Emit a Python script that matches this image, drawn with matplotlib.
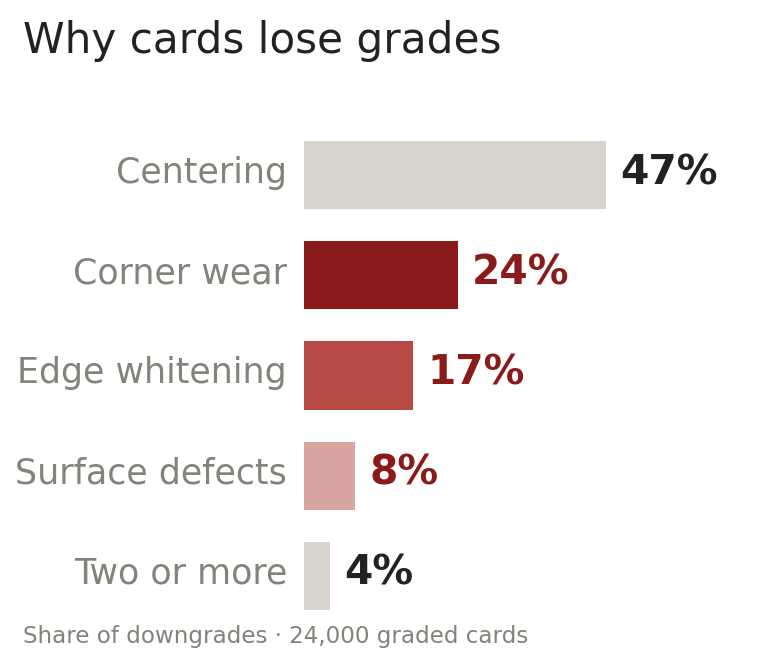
import matplotlib
matplotlib.use("Agg")
import matplotlib.pyplot as plt
from matplotlib.transforms import ScaledTranslation

# Data
categories = ["Centering", "Corner wear", "Edge whitening", "Surface defects", "Two or more"]
shares = [47, 24, 17, 8, 4]
bar_colors = ["#d8d5cc", "#8b1a1a", "#b84a45", "#d9a5a3", "#d8d5cc"]
value_colors = ["#222222", "#8b1a1a", "#8b1a1a", "#8b1a1a", "#222222"]

fig = plt.figure(figsize=(7.6, 6.6), dpi=100)
ax = fig.add_axes([0.4, 50 / 660, 0.6, 469 / 660])

y = list(range(len(categories)))
ax.barh(y, shares, height=0.68, color=bar_colors)
ax.set_ylim(len(categories) - 1 + 0.34, -0.34)
ax.set_xlim(0, 456 / (302 / 47))

for yi, v, c in zip(y, shares, value_colors):
    ax.annotate(f"{v}%", (v, yi), xytext=(14, 2), textcoords="offset pixels",
                ha="left", va="center", fontsize=29.3, fontweight="bold", color=c)

ax.set_yticks(y)
ax.set_yticklabels(categories, fontsize=25.1, color="#85827a", va="center")
ax.tick_params(axis="y", length=0, pad=12.2)
# nudge labels up a little to sit on the bar centres
shift = ScaledTranslation(0, 0.02, fig.dpi_scale_trans)
for lbl in ax.get_yticklabels():
    lbl.set_transform(lbl.get_transform() + shift)
ax.set_xticks([])
for s in ax.spines.values():
    s.set_visible(False)

fig.text(23 / 760, 1 - 41 / 660, "Why cards lose grades", fontsize=30.3,
         color="#222222", ha="left", va="center")
fig.text(23 / 760, 1 - 636 / 660, "Share of downgrades \u00b7 24,000 graded cards",
         fontsize=16.55, color="#85827a", ha="left", va="center")

fig.savefig("out.png", dpi=100)
